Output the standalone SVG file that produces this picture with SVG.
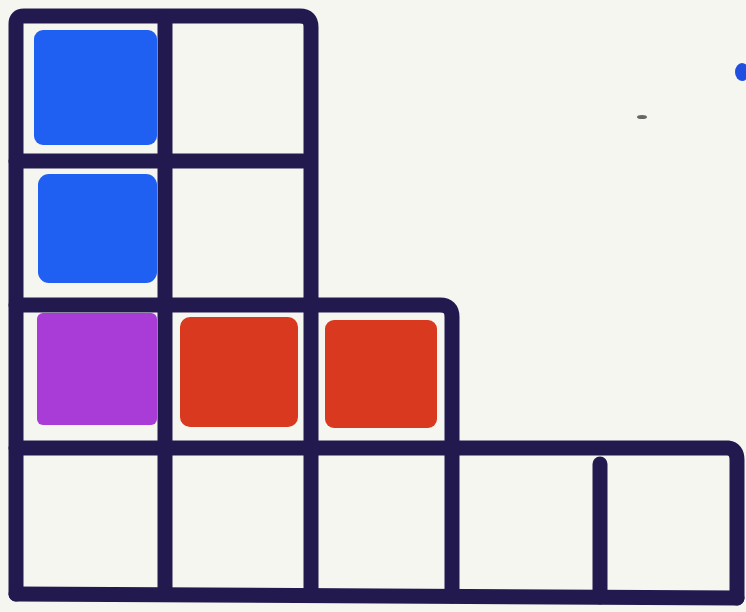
<svg xmlns="http://www.w3.org/2000/svg" width="746" height="612" viewBox="0 0 746 612">
<style>
.bg{fill:#f6f6f1}
.ln{fill:none;stroke:#221a4e;stroke-width:15;stroke-linecap:round;stroke-linejoin:round}
.blue{fill:#1f5ff2}
.purple{fill:#a93bd6}
.red{fill:#d9391e}
</style>
<rect class="bg" x="0" y="0" width="746" height="612"/>
<g id="cells">
<rect id="c11" class="blue" x="34" y="30" width="123" height="115" rx="9"/>
<rect id="c21" class="blue" x="38" y="174" width="119" height="109" rx="11"/>
<rect id="c31" class="purple" x="37" y="313" width="120" height="112" rx="6"/>
<rect id="c32" class="red" x="180" y="317" width="118" height="110" rx="10"/>
<rect id="c33" class="red" x="325" y="320" width="112" height="108" rx="9"/>
</g>
<g id="grid">
<path class="ln" d="M16 594 V24 Q16 16 24 16 H300 Q311 16 311 27 V594"/>
<path class="ln" d="M165 17 V594"/>
<path class="ln" d="M16 161 H303"/>
<path class="ln" d="M16 305 H440 Q452 305 452 317 V596"/>
<path class="ln" d="M16 448 H728 Q737 449 737 460 V598"/>
<path class="ln" d="M600 464 V597"/>
<path class="ln" d="M16 594 L737 598"/>
</g>
<ellipse cx="742" cy="72" rx="7" ry="9" fill="#1f4fe0"/>
<ellipse cx="642" cy="117" rx="5" ry="2" fill="#666"/>
</svg>
